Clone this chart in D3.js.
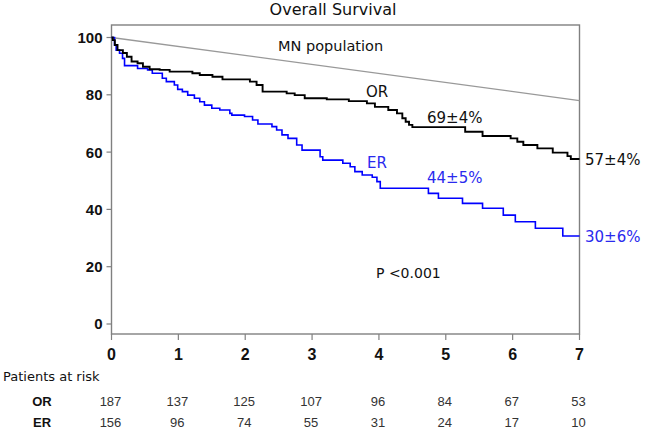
<!DOCTYPE html>
<html><head><meta charset="utf-8">
<script src="https://cdn.jsdelivr.net/npm/d3@7"></script>
<style>html,body{margin:0;padding:0;background:#fff;}svg{display:block;}</style>
</head><body>
<script>
// ---- data ----
const yTicks = [0, 20, 40, 60, 80, 100];
const xTicks = [0, 1, 2, 3, 4, 5, 6, 7];
const orTimes = [0, 0.02, 0.05, 0.09, 0.17, 0.23, 0.30, 0.39, 0.47, 0.57, 0.72, 0.87, 1.21, 1.32, 1.51, 1.66, 2.07, 2.17, 2.26, 2.62, 2.74, 2.89, 3.22, 3.55, 3.82, 3.94, 4.14, 4.27, 4.35, 4.40, 4.45, 4.50, 5.29, 5.55, 5.97, 6.07, 6.16, 6.37, 6.60, 6.82, 6.87];
const orSurv  = [100, 99.1, 97.4, 95.6, 94.6, 93.3, 91.6, 91.0, 89.8, 88.9, 88.7, 88.1, 87.5, 86.9, 86.3, 85.4, 84.6, 83.4, 81.1, 80.5, 79.9, 78.8, 78.4, 77.8, 77.0, 75.8, 74.7, 73.5, 71.8, 70.6, 69.5, 68.7, 67.1, 65.6, 64.8, 63.6, 62.5, 61.3, 59.8, 58.6, 57.6];
const erTimes = [0, 0.045, 0.07, 0.12, 0.165, 0.195, 0.39, 0.54, 0.61, 0.76, 0.82, 0.94, 0.99, 1.06, 1.14, 1.24, 1.32, 1.39, 1.50, 1.62, 1.77, 1.80, 1.99, 2.11, 2.19, 2.40, 2.47, 2.55, 2.64, 2.77, 2.85, 3.12, 3.16, 3.46, 3.57, 3.64, 3.75, 3.90, 3.97, 4.02, 4.74, 4.89, 5.25, 5.55, 5.86, 6.04, 6.34, 6.75];
const erSurv  = [100, 97.4, 95.6, 94.5, 92.7, 90.2, 89.2, 88.7, 87.5, 85.8, 84.6, 83.4, 81.9, 81.1, 79.9, 78.8, 77.6, 76.4, 75.3, 74.7, 73.5, 72.9, 72.4, 71.2, 69.8, 68.9, 67.7, 66.0, 64.8, 62.5, 60.7, 58.4, 57.2, 56.1, 54.9, 53.2, 52.0, 51.2, 49.7, 47.4, 45.6, 43.9, 42.1, 40.4, 38.0, 35.7, 33.4, 30.7];
const mnTimes = [0, 7];
const mnSurv  = [100, 78];
const riskGroups = ["OR", "ER"];
const riskOR = [187, 137, 125, 107, 96, 84, 67, 53];
const riskER = [156, 96, 74, 55, 31, 24, 17, 10];
const endLabels = [{t: 5, v: 69, text: "69±4%", grp: "OR"}, {t: 5, v: 44, text: "44±5%", grp: "ER"}];

// ---- layout ----
const W = 645, H = 433;
const svg = d3.select("body").append("svg").attr("width", W).attr("height", H);
const x = d3.scaleLinear().domain([0, 7]).range([111.5, 579.5]);
const y = d3.scaleLinear().domain([0, 100]).range([324, 37.5]);
const frameTop = 25, frameBottom = 334;
const blue = "#0000ff", blueText = "#2a2aee", axisCol = "#808080";

// frame
svg.append("rect").attr("x", x(0)).attr("y", frameTop).attr("width", x(7) - x(0)).attr("height", frameBottom - frameTop)
  .attr("fill", "none").attr("stroke", axisCol).attr("stroke-width", 1.4);

// y ticks
const yAxis = svg.append("g");
yTicks.forEach(v => {
  yAxis.append("line").attr("x1", x(0) - 5).attr("x2", x(0)).attr("y1", y(v)).attr("y2", y(v))
    .attr("stroke", axisCol).attr("stroke-width", 1.2);
  yAxis.append("text").attr("x", x(0) - 9).attr("y", y(v)).attr("dy", "0.36em").attr("text-anchor", "end")
    .attr("font-family", "Liberation Sans, Arial, sans-serif").attr("font-size", 15).attr("font-weight", "bold")
    .attr("fill", "#111").text(v);
});
// x ticks
const xAxis = svg.append("g");
xTicks.forEach(t => {
  xAxis.append("line").attr("x1", x(t)).attr("x2", x(t)).attr("y1", frameBottom).attr("y2", frameBottom + 6)
    .attr("stroke", axisCol).attr("stroke-width", 1.2);
  xAxis.append("text").attr("x", x(t)).attr("y", frameBottom + 26).attr("text-anchor", "middle")
    .attr("font-family", "Liberation Sans, Arial, sans-serif").attr("font-size", 16).attr("font-weight", "bold")
    .attr("fill", "#111").text(t);
});

// curves
const line = d3.line().x(d => x(d[0])).y(d => y(d[1]));
const step = d3.line().x(d => x(d[0])).y(d => y(d[1])).curve(d3.curveStepAfter);
function pts(ts, vs) { const p = ts.map((t, i) => [t, vs[i]]); p.push([7, vs[vs.length - 1]]); return p; }

svg.append("path").attr("d", line(mnTimes.map((t, i) => [t, mnSurv[i]])))
  .attr("fill", "none").attr("stroke", "#999").attr("stroke-width", 1.3);
svg.append("path").attr("d", step(pts(erTimes, erSurv)))
  .attr("fill", "none").attr("stroke", blue).attr("stroke-width", 1.6);
svg.append("path").attr("d", step(pts(orTimes, orSurv)))
  .attr("fill", "none").attr("stroke", "#000").attr("stroke-width", 1.9);

// texts
const sans = "DejaVu Sans, Verdana, sans-serif";
svg.append("text").attr("x", 333).attr("y", 15).attr("text-anchor", "middle").attr("font-family", sans)
  .attr("font-size", 16).attr("fill", "#111").text("Overall Survival");
svg.append("text").attr("x", 278).attr("y", 51).attr("font-family", sans).attr("font-size", 14.5)
  .attr("fill", "#111").text("MN population");
svg.append("text").attr("x", 366).attr("y", 97).attr("font-family", sans).attr("font-size", 15)
  .attr("fill", "#111").text("OR");
svg.append("text").attr("x", 367).attr("y", 168).attr("font-family", sans).attr("font-size", 15)
  .attr("fill", blueText).text("ER");
endLabels.forEach(d => {
  svg.append("text").attr("x", 427).attr("y", d.grp === "OR" ? 123 : 183).attr("font-family", sans)
    .attr("font-size", 15).attr("fill", d.grp === "OR" ? "#111" : blueText).text(d.text);
});
svg.append("text").attr("x", 585).attr("y", 165).attr("font-family", sans).attr("font-size", 15)
  .attr("fill", "#111").text("57±4%");
svg.append("text").attr("x", 585).attr("y", 242).attr("font-family", sans).attr("font-size", 15)
  .attr("fill", blueText).text("30±6%");
svg.append("text").attr("x", 376).attr("y", 278).attr("font-family", sans).attr("font-size", 14)
  .attr("fill", "#111").text("P <0.001");

// risk table
svg.append("text").attr("x", 3).attr("y", 381).attr("font-family", sans).attr("font-size", 13)
  .attr("fill", "#111").text("Patients at risk");
const rows = [riskOR, riskER];
rows.forEach((row, r) => {
  const yy = r === 0 ? 406 : 427;
  svg.append("text").attr("x", 42).attr("y", yy).attr("text-anchor", "middle")
    .attr("font-family", "Liberation Sans, Arial, sans-serif").attr("font-size", 13).attr("font-weight", "bold")
    .attr("fill", "#111").text(riskGroups[r]);
  row.forEach((n, i) => {
    svg.append("text").attr("x", x(xTicks[i]) - 1).attr("y", yy).attr("text-anchor", "middle")
      .attr("font-family", "Liberation Sans, Arial, sans-serif").attr("font-size", 13)
      .attr("fill", "#333").text(n);
  });
});
</script>
</body></html>
